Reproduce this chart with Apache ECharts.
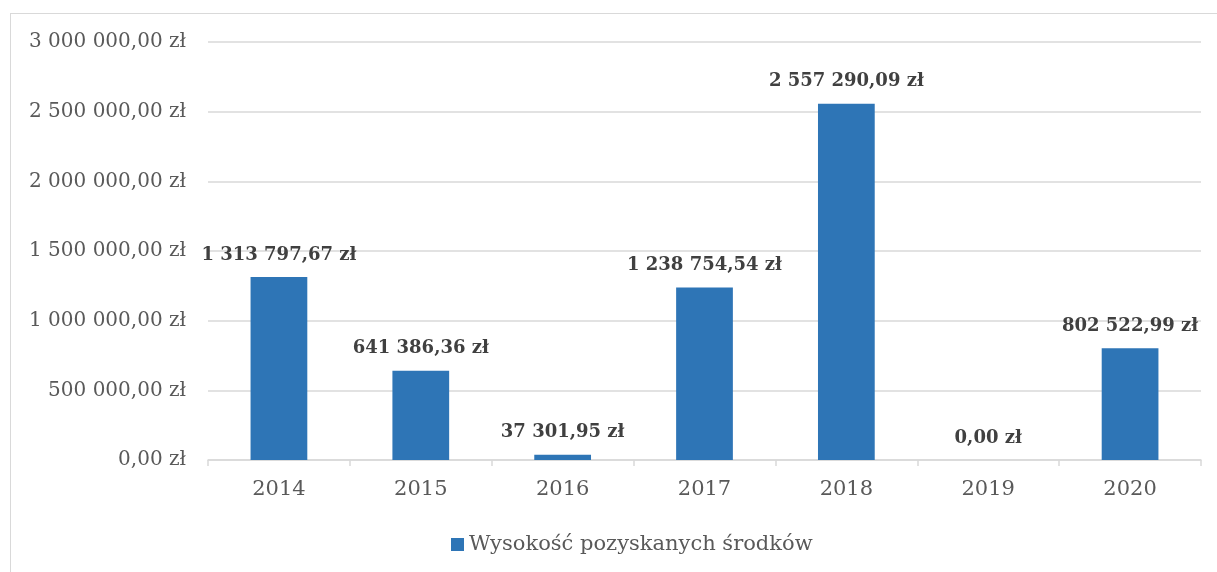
<!DOCTYPE html>
<html>
<head>
<meta charset="utf-8">
<script src="https://cdn.jsdelivr.net/npm/echarts@6/dist/echarts.min.js"></script>
<style>
  html, body { margin: 0; padding: 0; background: #fff; }
  #frame { position: absolute; left: 10px; top: 13px; width: 1300px; height: 700px; border: 1px solid #d9d9d9; }
  #chart { position: absolute; left: 0; top: 0; width: 1217px; height: 572px; }
</style>
</head>
<body>
<div id="frame"></div>
<div id="chart"></div>
<script>
// lata i kwoty
const years = ['2014', '2015', '2016', '2017', '2018', '2019', '2020'];
const amounts = [1313797.67, 641386.36, 37301.95, 1238754.54, 2557290.09, 0, 802522.99];
const seriesName = 'Wysokość pozyskanych środków';

// 1234567.8 -> "1 234 567,80 zł"
function formatZl(v) {
    const parts = Number(v).toFixed(2).split('.');
    const intPart = parts[0].replace(/\B(?=(\d{3})+(?!\d))/g, ' ');
    return intPart + ',' + parts[1] + ' zł';
}

const chart = echarts.init(document.getElementById('chart'));

const option = {
    animation: false,
    textStyle: { fontFamily: 'DejaVu Serif' },
    legend: {
        bottom: 12,
        left: 446,
        itemWidth: 13,
        itemHeight: 13,
        itemGap: 6,
        icon: 'rect',
        textStyle: { color: '#595959', fontSize: 21, fontFamily: 'DejaVu Serif' },
        data: [seriesName]
    },
    grid: {
        left: 208,
        right: 16,
        top: 42,
        bottom: 112
    },
    xAxis: {
        type: 'category',
        data: years,
        axisLine: { lineStyle: { color: '#d9d9d9', width: 1.5 } },
        axisTick: { show: true, length: 6, lineStyle: { color: '#d9d9d9', width: 1.5 } },
        axisLabel: { color: '#595959', fontSize: 21, margin: 19 }
    },
    yAxis: {
        type: 'value',
        min: 0,
        max: 3000000,
        interval: 500000,
        axisLine: { show: false },
        axisTick: { show: false },
        axisLabel: { color: '#595959', fontSize: 20, margin: 22, formatter: formatZl },
        splitLine: { lineStyle: { color: '#d9d9d9', width: 1.5 } }
    },
    series: [{
        name: seriesName,
        type: 'bar',
        data: amounts,
        barWidth: '40%',
        itemStyle: { color: '#2e75b6' },
        label: {
            show: true,
            position: 'top',
            distance: 13,
            color: '#404040',
            fontWeight: 'bold',
            fontSize: 18,
            fontFamily: 'DejaVu Serif',
            formatter: p => formatZl(p.value)
        }
    }]
};

chart.setOption(option);
</script>
</body>
</html>
